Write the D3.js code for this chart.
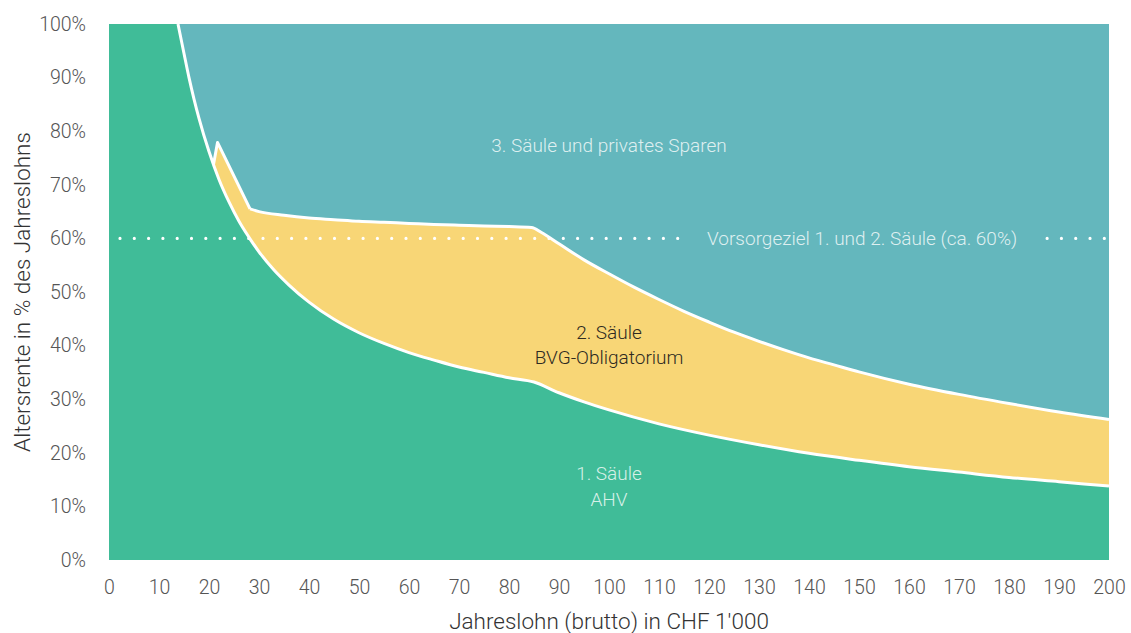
<!DOCTYPE html>
<html>
<head>
<meta charset="utf-8">
<script src="https://cdn.jsdelivr.net/npm/d3@7"></script>
<style>
  html, body { margin: 0; padding: 0; background: #ffffff; }
  svg { display: block; font-family: Roboto, "Noto Sans", sans-serif; }
</style>
</head>
<body>
<svg id="chart" width="1131" height="633"></svg>
<script>
// ---- data ----
const xTicks = [0, 10, 20, 30, 40, 50, 60, 70, 80, 90, 100, 110, 120, 130, 140, 150, 160, 170, 180, 190, 200];
const yTicks = [0, 10, 20, 30, 40, 50, 60, 70, 80, 90, 100];
const yTickLabels = ["0%", "10%", "20%", "30%", "40%", "50%", "60%", "70%", "80%", "90%", "100%"];

// 1. Säule (AHV): pension as % of salary, salary in CHF 1'000
const ahvSalary = [13.8, 15, 16, 17, 18, 20, 22, 24, 26, 28, 30, 33, 36, 40, 45, 50, 55, 60, 65, 70, 75, 80, 85, 90, 95, 100, 110, 120, 130, 140, 150, 160, 170, 180, 190, 200];
const ahvPct    = [100, 94.5, 90.0, 86.0, 82.4, 76.2, 71.0, 66.8, 63.2, 60.2, 57.5, 54.1, 51.3, 48.1, 44.9, 42.4, 40.4, 38.7, 37.3, 36.0, 35.0, 34.0, 33.2, 31.2, 29.5, 28.0, 25.4, 23.3, 21.5, 19.9, 18.6, 17.4, 16.4, 15.4, 14.6, 13.8];

// 1. + 2. Säule (AHV + BVG) total: start section (straight) and main section (curved)
const totStartSalary = [20.9, 21.7, 28.2];
const totStartPct    = [73.8, 77.9, 65.5];
const totSalary = [28.2, 30, 35, 40, 45, 50, 55, 60, 65, 70, 75, 80, 84.5, 86.5, 90, 95, 100, 105, 110, 115, 120, 125, 130, 135, 140, 145, 150, 160, 170, 180, 190, 200];
const totPct    = [65.5, 65.0, 64.3, 63.8, 63.5, 63.2, 63.0, 62.8, 62.6, 62.45, 62.3, 62.2, 62.05, 61.1, 59.0, 56.0, 53.4, 50.9, 48.6, 46.4, 44.4, 42.5, 40.8, 39.2, 37.7, 36.4, 35.1, 32.8, 30.9, 29.2, 27.6, 26.2];

const goalPct = 60;
const goalLabel = "Vorsorgeziel 1. und 2. Säule (ca. 60%)";
const labelPillar3 = "3. Säule und privates Sparen";
const labelPillar2 = ["2. Säule", "BVG-Obligatorium"];
const labelPillar1 = ["1. Säule", "AHV"];
const xTitle = "Jahreslohn (brutto) in CHF 1'000";
const yTitle = "Altersrente in % des Jahreslohns";

// ---- layout ----
const W = 1131, H = 633;
const margin = { top: 24, right: 22, bottom: 73, left: 109 };
const iw = W - margin.left - margin.right;
const ih = H - margin.top - margin.bottom;

const colGreen = "#40bc98", colTeal = "#64b7bd", colYellow = "#f8d676";
const labelFill = "#ffffff", labelOpacity = 0.8;

const svg = d3.select("#chart");
const g = svg.append("g").attr("transform", `translate(${margin.left},${margin.top})`);

const x = d3.scaleLinear().domain([0, 200]).range([0, iw]);
const y = d3.scaleLinear().domain([0, 100]).range([ih, 0]);

const zip = (a, b) => a.map((v, i) => [v, b[i]]);
const ahv = zip(ahvSalary, ahvPct);
const totStart = zip(totStartSalary, totStartPct);
const tot = zip(totSalary, totPct);

// teal background (3. Säule)
g.append("rect").attr("x", x(0)).attr("y", y(100))
  .attr("width", x(200) - x(0)).attr("height", y(0) - y(100)).attr("fill", colTeal);

// yellow (2. Säule) areas
const areaLin = d3.area().x(d => x(d[0])).y0(y(0)).y1(d => y(d[1])).curve(d3.curveLinear);
const areaMono = d3.area().x(d => x(d[0])).y0(y(0)).y1(d => y(d[1])).curve(d3.curveMonotoneX);
g.append("path").attr("d", areaLin(totStart)).attr("fill", colYellow);
g.append("path").attr("d", areaMono(tot)).attr("fill", colYellow);

// green (1. Säule)
g.append("rect").attr("x", x(0)).attr("y", y(100))
  .attr("width", x(ahvSalary[0]) - x(0) + 0.5).attr("height", y(0) - y(100)).attr("fill", colGreen);
g.append("path").attr("d", areaMono(ahv)).attr("fill", colGreen);

// white boundary lines
const lineLin = d3.line().x(d => x(d[0])).y(d => y(d[1])).curve(d3.curveLinear);
const lineMono = d3.line().x(d => x(d[0])).y(d => y(d[1])).curve(d3.curveMonotoneX);
const wl = p => g.append("path").attr("d", p).attr("fill", "none").attr("stroke", "#fff")
  .attr("stroke-width", 3).attr("stroke-linejoin", "round");
wl(lineMono(ahv));
wl(lineLin(totStart));
wl(lineMono(tot));

// goal label + dotted line
const goalText = g.append("text").text(goalLabel)
  .attr("x", x(119.6)).attr("y", y(goalPct)).attr("dy", "0.35em")
  .attr("fill", labelFill).attr("fill-opacity", labelOpacity)
  .attr("font-size", 19).attr("font-weight", 300);
const bb = goalText.node().getBBox();
const dot = (x1, x2) => g.append("line")
  .attr("x1", x1).attr("x2", x2).attr("y1", y(goalPct)).attr("y2", y(goalPct))
  .attr("stroke", "#fff").attr("stroke-width", 3.2).attr("stroke-linecap", "round")
  .attr("stroke-dasharray", "0,14.3");
dot(x(2.2), bb.x - 27);
dot(bb.x + bb.width + 30, x(200) - 2);

// area labels
g.append("text").text(labelPillar3).attr("x", x(100)).attr("y", y(77.3)).attr("dy", "0.35em")
  .attr("text-anchor", "middle").attr("fill", labelFill).attr("fill-opacity", labelOpacity)
  .attr("font-size", 19).attr("font-weight", 300);
labelPillar2.forEach((t, i) => g.append("text").text(t).attr("x", x(100)).attr("y", y(42.5) + i * 25)
  .attr("dy", "0.35em").attr("text-anchor", "middle").attr("fill", "#2e2a22")
  .attr("font-size", 19).attr("font-weight", 300));
labelPillar1.forEach((t, i) => g.append("text").text(t).attr("x", x(100)).attr("y", y(16.1) + i * 25.5)
  .attr("dy", "0.35em").attr("text-anchor", "middle").attr("fill", labelFill).attr("fill-opacity", labelOpacity)
  .attr("font-size", 19).attr("font-weight", 300));

// axes
const xAxis = g.append("g").attr("transform", `translate(0,${ih})`)
  .call(d3.axisBottom(x).tickValues(xTicks).tickSize(0).tickPadding(20).tickFormat(d3.format("d")));
const yAxis = g.append("g")
  .call(d3.axisLeft(y).tickValues(yTicks).tickSize(0).tickPadding(23).tickFormat((d, i) => yTickLabels[i]));
[xAxis, yAxis].forEach(a => {
  a.select(".domain").remove();
  a.selectAll("text").attr("font-family", "Roboto, 'Noto Sans', sans-serif")
    .attr("font-size", 19.5).attr("font-weight", 300).attr("fill", "#555");
});

// axis titles
svg.append("text").text(xTitle).attr("x", margin.left + x(100)).attr("y", 621).attr("dy", "0.35em")
  .attr("text-anchor", "middle").attr("font-size", 22.5).attr("font-weight", 300).attr("fill", "#333");
svg.append("text").text(yTitle)
  .attr("transform", `translate(22,${margin.top + ih / 2}) rotate(-90)`).attr("dy", "0.35em")
  .attr("text-anchor", "middle").attr("font-size", 22.5).attr("font-weight", 300).attr("fill", "#333");
</script>
</body>
</html>
